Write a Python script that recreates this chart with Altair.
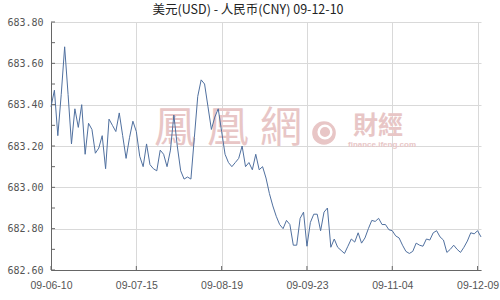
import altair as alt
import pandas as pd

# ---- data ----
date_labels = ["09-06-10", "09-07-15", "09-08-19", "09-09-23", "09-11-04", "09-12-09"]
label_index = [0, 25, 50, 75, 100, 125]
y_grid_values = [682.6, 682.8, 683.0, 683.2, 683.4, 683.6, 683.8]
y_minor_ticks = [682.6, 682.7, 682.8, 682.9, 683.0, 683.1, 683.2, 683.3, 683.4, 683.5, 683.6, 683.7, 683.8]

rates = [
    683.39, 683.47, 683.25, 683.45, 683.68, 683.45, 683.21, 683.38, 683.29, 683.40,
    683.16, 683.31, 683.28, 683.165, 683.19, 683.25, 683.09, 683.33, 683.30, 683.27,
    683.36, 683.25, 683.14, 683.24, 683.32, 683.27, 683.15, 683.10, 683.21, 683.11,
    683.09, 683.08, 683.18, 683.16, 683.10, 683.18, 683.35, 683.20, 683.08, 683.04,
    683.05, 683.04, 683.24, 683.44, 683.52, 683.50, 683.39, 683.28, 683.34, 683.38,
    683.27, 683.16, 683.12, 683.10, 683.12, 683.14, 683.20, 683.10, 683.12, 683.085,
    683.16, 683.085, 683.10, 683.045, 682.97, 682.91, 682.86, 682.82, 682.80, 682.84,
    682.82, 682.72, 682.72, 682.85, 682.88, 682.715, 682.83, 682.87, 682.87, 682.79,
    682.88, 682.90, 682.71, 682.75, 682.71, 682.695, 682.68, 682.715, 682.75, 682.735,
    682.78, 682.73, 682.755, 682.80, 682.84, 682.835, 682.85, 682.82, 682.82, 682.795,
    682.79, 682.765, 682.755, 682.72, 682.69, 682.68, 682.69, 682.73, 682.72, 682.715,
    682.75, 682.745, 682.78, 682.79, 682.76, 682.745, 682.685, 682.70, 682.72, 682.70,
    682.685, 682.71, 682.74, 682.78, 682.775, 682.79, 682.76,
]

title_text = "美元(USD) - 人民币(CNY)  09-12-10"

W, H = 430, 248

df = pd.DataFrame({"i": list(range(len(rates))), "rate": rates})
df_yt = pd.DataFrame({"rate": y_minor_ticks})
df_xt = pd.DataFrame({"i": label_index})
one = pd.DataFrame({"a": [0]})

xscale = alt.Scale(domain=[0, len(rates) - 1], nice=False, zero=False)
yscale = alt.Scale(domain=[682.6, 683.8], nice=False, zero=False)

label_expr = "[" + ",".join("'" + d + "'" for d in date_labels) + "][round(datum.value / 25)]"

wm_color = "#e8c6c6"

layers = []
# watermark
for ch, xx in zip(["鳳", "凰", "網"], [124, 177, 230]):
    layers.append(
        alt.Chart(one).mark_text(text=ch, font="Noto Sans CJK SC", fontSize=42,
                                 color=wm_color, baseline="middle", align="center")
        .encode(x=alt.value(xx), y=alt.value(107))
    )
layers.append(
    alt.Chart(one).mark_point(shape="circle", filled=True, size=560, color=wm_color, opacity=1)
    .encode(x=alt.value(273), y=alt.value(111))
)
layers.append(
    alt.Chart(one).mark_point(shape="circle", filled=False, size=160, color="#ffffff",
                              strokeWidth=2.5, opacity=1)
    .encode(x=alt.value(274), y=alt.value(110))
)
layers.append(
    alt.Chart(one).mark_text(text="財經", font="Noto Sans CJK SC", fontSize=25, fontWeight="bold",
                             color=wm_color, baseline="middle", align="center")
    .encode(x=alt.value(327), y=alt.value(104))
)
layers.append(
    alt.Chart(one).mark_text(text="finance.ifeng.com", font="Liberation Sans", fontSize=8,
                             fontWeight="bold", color=wm_color, baseline="middle", align="center")
    .encode(x=alt.value(331), y=alt.value(123))
)

line = alt.Chart(df).mark_line(color="#50709f", strokeWidth=1, interpolate="linear").encode(
    x=alt.X("i:Q", scale=xscale, title=None,
            axis=alt.Axis(values=label_index, labelExpr=label_expr, grid=True, ticks=False,
                          labelPadding=10, labelFont="Liberation Sans", labelFontSize=10.5,
                          labelColor="#555555", domainColor="#666666", gridColor="#d9d9d9",
                          labelFlush=False, labelOverlap=False)),
    y=alt.Y("rate:Q", scale=yscale, title=None,
            axis=alt.Axis(values=y_grid_values, format=".2f", grid=True, ticks=False,
                          labelPadding=8, labelFont="DejaVu Sans Mono", labelFontSize=10,
                          labelColor="#555555", domainColor="#666666", gridColor="#d9d9d9",
                          labelOverlap=False)),
)
layers.append(line)

yticks = alt.Chart(df_yt).mark_rule(color="#666666", strokeWidth=1).encode(
    y=alt.Y("rate:Q", scale=yscale), x=alt.value(0), x2=alt.value(4)
)
xticks = alt.Chart(df_xt).mark_rule(color="#666666", strokeWidth=1).encode(
    x=alt.X("i:Q", scale=xscale), y=alt.value(H), y2=alt.value(H - 4)
)
layers += [yticks, xticks]

title = alt.Chart(one).mark_text(text=title_text, font="Noto Sans CJK SC", fontSize=12.5,
                                 color="#222222", baseline="middle", align="center").encode(
    x=alt.value(197), y=alt.value(-12)
)
layers.append(title)

chart = alt.layer(*layers).properties(
    width=W, height=H,
    autosize=alt.AutoSizeParams(type="none"),
    padding={"left": 51, "top": 22, "right": 19, "bottom": 30},
    background="#ffffff",
).configure_view(stroke=None)

chart.save("out.html", embed_options={"renderer": "svg", "actions": False})
